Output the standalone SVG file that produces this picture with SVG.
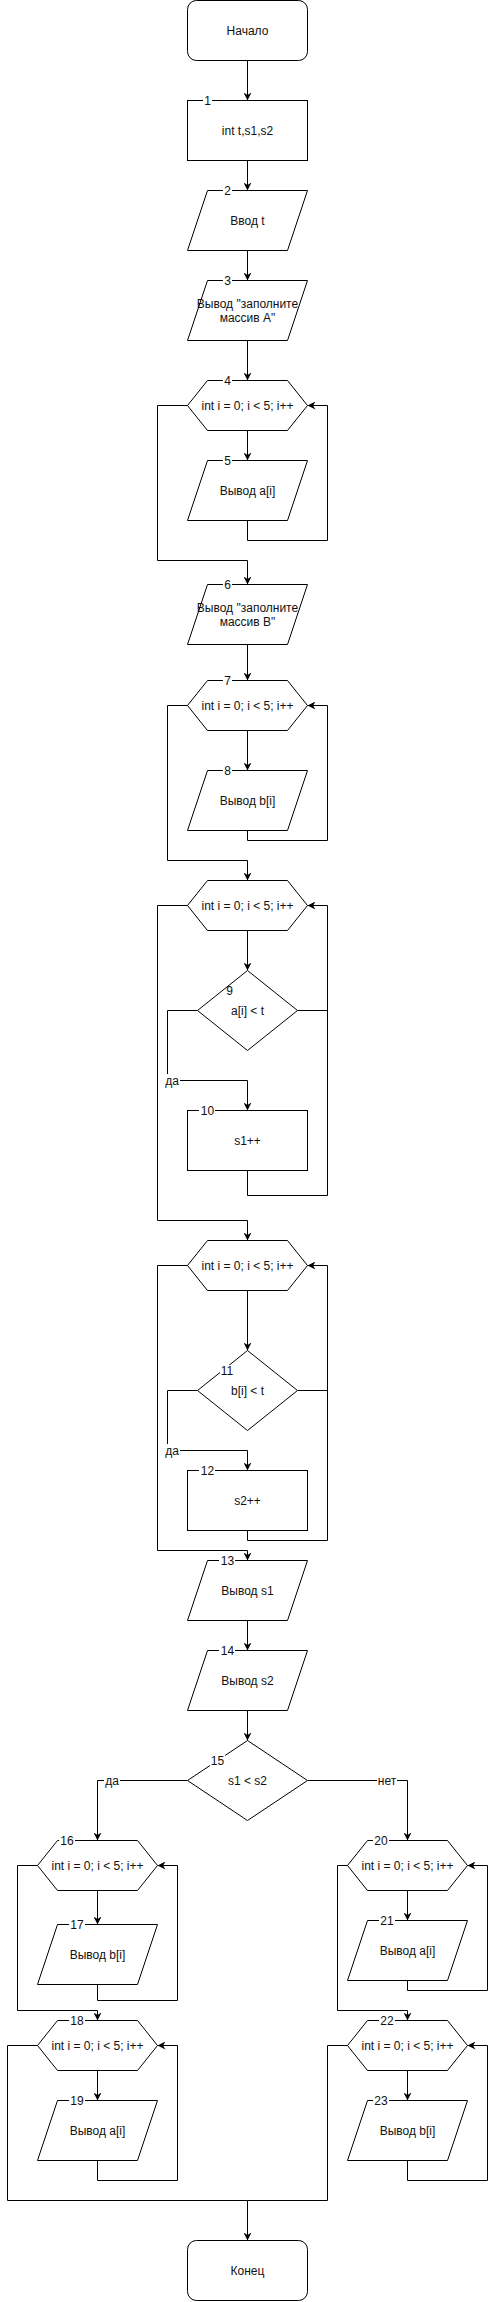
<svg xmlns="http://www.w3.org/2000/svg" width="496" height="2302" viewBox="0 0 496 2302">
<style>
.s{fill:#fff;stroke:#000;stroke-width:1}
.t{font-family:"Liberation Sans",Arial,sans-serif;font-size:12px;fill:#111;text-anchor:middle}
.c{fill:none;stroke:#000;stroke-width:1}
.a{marker-end:url(#arr)}
.bg{fill:#fff}
</style>
<defs>
<marker id="arr" viewBox="0 0 10 10" refX="10" refY="5" markerWidth="8" markerHeight="8" markerUnits="userSpaceOnUse" orient="auto"><path d="M0,0 L10,5 L0,10 L3,5 z" fill="#000"/></marker>
</defs>
<rect width="496" height="2302" fill="#fff"/>
<g id="connectors">
<path class="c a" d="M247.5,60.5 V100.5"/>
<path class="c a" d="M247.5,160.5 V190.5"/>
<path class="c a" d="M247.5,250.5 V280.5"/>
<path class="c a" d="M247.5,340.5 V380.5"/>
<path class="c a" d="M247.5,430.5 V460.5"/>
<path class="c a" d="M247.5,520.5 V540.5 H327.5 V405.5 H307.5"/>
<path class="c a" d="M187.5,405.5 H157.5 V560.5 H247.5 V584.5"/>
<path class="c a" d="M247.5,644.5 V680.5"/>
<path class="c a" d="M247.5,730.5 V770.5"/>
<path class="c a" d="M247.5,830.5 V840.5 H327.5 V705.5 H307.5"/>
<path class="c a" d="M187.5,705.5 H167.5 V860.5 H247.5 V880.5"/>
<path class="c a" d="M247.5,930.5 V970.5"/>
<path class="c a" d="M197.5,1010.5 H167.5 V1080.5 H247.5 V1110.5"/>
<path class="c" d="M297.5,1010.5 H327.5"/>
<path class="c a" d="M247.5,1170.5 V1195.5 H327.5 V905.5 H307.5"/>
<path class="c a" d="M187.5,905.5 H157.5 V1220.5 H247.5 V1240.5"/>
<path class="c a" d="M247.5,1290.5 V1350.5"/>
<path class="c a" d="M197.5,1390.5 H167.5 V1450.5 H247.5 V1470.5"/>
<path class="c" d="M297.5,1390.5 H327.5"/>
<path class="c a" d="M247.5,1530.5 V1540.5 H327.5 V1265.5 H307.5"/>
<path class="c a" d="M187.5,1265.5 H157.5 V1550.5 H247.5 V1560.5"/>
<path class="c a" d="M247.5,1620.5 V1650.5"/>
<path class="c a" d="M247.5,1710.5 V1740.5"/>
<path class="c a" d="M187.5,1780.5 H97.5 V1840.5"/>
<path class="c a" d="M307.5,1780.5 H407.5 V1840.5"/>
<path class="c a" d="M97.5,1890.5 V1924.5"/>
<path class="c a" d="M97.5,1984.5 V2000.5 H177.5 V1865.5 H157.5"/>
<path class="c a" d="M37.5,1865.5 H17.5 V2010.5 H97.5 V2020.5"/>
<path class="c a" d="M97.5,2070.5 V2100.5"/>
<path class="c a" d="M97.5,2160.5 V2180.5 H177.5 V2045.5 H157.5"/>
<path class="c a" d="M407.5,1890.5 V1920.5"/>
<path class="c a" d="M407.5,1980.5 V1990.5 H487.5 V1865.5 H467.5"/>
<path class="c a" d="M347.5,1865.5 H337.5 V2010.5 H407.5 V2020.5"/>
<path class="c a" d="M407.5,2070.5 V2100.5"/>
<path class="c a" d="M407.5,2160.5 V2180.5 H487.5 V2045.5 H467.5"/>
<path class="c a" d="M37.5,2045.5 H7.5 V2200.5 H247.5 V2240.5"/>
<path class="c" d="M347.5,2045.5 H327.5 V2200.5 H247.5"/>
<rect class="bg" x="164" y="1074" width="16" height="13"/>
<text class="t" x="172" y="1084.5">да</text>
<rect class="bg" x="164" y="1444" width="16" height="13"/>
<text class="t" x="172" y="1454.5">да</text>
<rect class="bg" x="104" y="1774" width="16" height="13"/>
<text class="t" x="112" y="1784.5">да</text>
<rect class="bg" x="377" y="1774" width="20" height="13"/>
<text class="t" x="387" y="1784.5">нет</text>
</g>
<g id="start">
<rect class="s" x="187.5" y="0.5" width="120" height="60" rx="9"/>
<text class="t" x="247.5" y="34.5">Начало</text>
</g>
<g id="n1">
<rect class="s" x="187.5" y="100.5" width="120" height="60"/>
<text class="t" x="247.5" y="134.5">int t,s1,s2</text>
<rect class="bg" x="203" y="94" width="9" height="13"/>
<text class="t" x="207.5" y="104.5">1</text>
</g>
<g id="n2">
<polygon class="s" points="207.5,190.5 307.5,190.5 287.5,250.5 187.5,250.5"/>
<text class="t" x="247.5" y="224.5">Ввод t</text>
<rect class="bg" x="223" y="184" width="9" height="13"/>
<text class="t" x="227.5" y="194.5">2</text>
</g>
<g id="n3">
<polygon class="s" points="207.5,280.5 307.5,280.5 287.5,340.5 187.5,340.5"/>
<text class="t" x="247.5" y="308">Вывод "заполните</text>
<text class="t" x="247.5" y="322">массив А"</text>
<rect class="bg" x="223" y="274" width="9" height="13"/>
<text class="t" x="227.5" y="284.5">3</text>
</g>
<g id="n4">
<polygon class="s" points="187.5,405.5 207.5,380.5 287.5,380.5 307.5,405.5 287.5,430.5 207.5,430.5"/>
<text class="t" x="247.5" y="409.5">int i = 0; i &lt; 5; i++</text>
<rect class="bg" x="223" y="374" width="9" height="13"/>
<text class="t" x="227.5" y="384.5">4</text>
</g>
<g id="n5">
<polygon class="s" points="207.5,460.5 307.5,460.5 287.5,520.5 187.5,520.5"/>
<text class="t" x="247.5" y="494.5">Вывод a[i]</text>
<rect class="bg" x="223" y="454" width="9" height="13"/>
<text class="t" x="227.5" y="464.5">5</text>
</g>
<g id="n6">
<polygon class="s" points="207.5,584.5 307.5,584.5 287.5,644.5 187.5,644.5"/>
<text class="t" x="247.5" y="612">Вывод "заполните</text>
<text class="t" x="247.5" y="626">массив В"</text>
<rect class="bg" x="223" y="578" width="9" height="13"/>
<text class="t" x="227.5" y="588.5">6</text>
</g>
<g id="n7">
<polygon class="s" points="187.5,705.5 207.5,680.5 287.5,680.5 307.5,705.5 287.5,730.5 207.5,730.5"/>
<text class="t" x="247.5" y="709.5">int i = 0; i &lt; 5; i++</text>
<rect class="bg" x="223" y="674" width="9" height="13"/>
<text class="t" x="227.5" y="684.5">7</text>
</g>
<g id="n8">
<polygon class="s" points="207.5,770.5 307.5,770.5 287.5,830.5 187.5,830.5"/>
<text class="t" x="247.5" y="804.5">Вывод b[i]</text>
<rect class="bg" x="223" y="764" width="9" height="13"/>
<text class="t" x="227.5" y="774.5">8</text>
</g>
<g id="loop3">
<polygon class="s" points="187.5,905.5 207.5,880.5 287.5,880.5 307.5,905.5 287.5,930.5 207.5,930.5"/>
<text class="t" x="247.5" y="909.5">int i = 0; i &lt; 5; i++</text>
</g>
<g id="n9">
<polygon class="s" points="247.5,970.5 297.5,1010.5 247.5,1050.5 197.5,1010.5"/>
<text class="t" x="247.5" y="1014.5">a[i] &lt; t</text>
<text class="t" x="229.5" y="994.5">9</text>
</g>
<g id="n10">
<rect class="s" x="187.5" y="1110.5" width="120" height="60"/>
<text class="t" x="247.5" y="1144.5">s1++</text>
<rect class="bg" x="199" y="1104" width="16" height="13"/>
<text class="t" x="207.5" y="1114.5">10</text>
</g>
<g id="loop4">
<polygon class="s" points="187.5,1265.5 207.5,1240.5 287.5,1240.5 307.5,1265.5 287.5,1290.5 207.5,1290.5"/>
<text class="t" x="247.5" y="1269.5">int i = 0; i &lt; 5; i++</text>
</g>
<g id="n11">
<polygon class="s" points="247.5,1350.5 297.5,1390.5 247.5,1430.5 197.5,1390.5"/>
<text class="t" x="247.5" y="1394.5">b[i] &lt; t</text>
<rect class="bg" x="220" y="1365" width="14" height="11"/>
<text class="t" x="227" y="1374.5">11</text>
</g>
<g id="n12">
<rect class="s" x="187.5" y="1470.5" width="120" height="60"/>
<text class="t" x="247.5" y="1504.5">s2++</text>
<rect class="bg" x="199" y="1464" width="16" height="13"/>
<text class="t" x="207.5" y="1474.5">12</text>
</g>
<g id="n13">
<polygon class="s" points="207.5,1560.5 307.5,1560.5 287.5,1620.5 187.5,1620.5"/>
<text class="t" x="247.5" y="1594.5">Вывод s1</text>
<rect class="bg" x="219" y="1554" width="16" height="13"/>
<text class="t" x="227.5" y="1564.5">13</text>
</g>
<g id="n14">
<polygon class="s" points="207.5,1650.5 307.5,1650.5 287.5,1710.5 187.5,1710.5"/>
<text class="t" x="247.5" y="1684.5">Вывод s2</text>
<rect class="bg" x="219" y="1644" width="16" height="13"/>
<text class="t" x="227.5" y="1654.5">14</text>
</g>
<g id="n15">
<polygon class="s" points="247.5,1740.5 307.5,1780.5 247.5,1820.5 187.5,1780.5"/>
<text class="t" x="247.5" y="1784.5">s1 &lt; s2</text>
<rect class="bg" x="210" y="1755" width="15" height="12"/>
<text class="t" x="217.5" y="1764.5">15</text>
</g>
<g id="n16">
<polygon class="s" points="37.5,1865.5 57.5,1840.5 137.5,1840.5 157.5,1865.5 137.5,1890.5 57.5,1890.5"/>
<text class="t" x="97.5" y="1869.5">int i = 0; i &lt; 5; i++</text>
<rect class="bg" x="59" y="1834" width="16" height="13"/>
<text class="t" x="67" y="1844.5">16</text>
</g>
<g id="n17">
<polygon class="s" points="57.5,1924.5 157.5,1924.5 137.5,1984.5 37.5,1984.5"/>
<text class="t" x="97.5" y="1958.5">Вывод b[i]</text>
<rect class="bg" x="69" y="1918" width="16" height="13"/>
<text class="t" x="77" y="1928.5">17</text>
</g>
<g id="n18">
<polygon class="s" points="37.5,2045.5 57.5,2020.5 137.5,2020.5 157.5,2045.5 137.5,2070.5 57.5,2070.5"/>
<text class="t" x="97.5" y="2049.5">int i = 0; i &lt; 5; i++</text>
<rect class="bg" x="69" y="2014" width="16" height="13"/>
<text class="t" x="77" y="2024.5">18</text>
</g>
<g id="n19">
<polygon class="s" points="57.5,2100.5 157.5,2100.5 137.5,2160.5 37.5,2160.5"/>
<text class="t" x="97.5" y="2134.5">Вывод a[i]</text>
<rect class="bg" x="69" y="2094" width="16" height="13"/>
<text class="t" x="77" y="2104.5">19</text>
</g>
<g id="n20">
<polygon class="s" points="347.5,1865.5 367.5,1840.5 447.5,1840.5 467.5,1865.5 447.5,1890.5 367.5,1890.5"/>
<text class="t" x="407.5" y="1869.5">int i = 0; i &lt; 5; i++</text>
<rect class="bg" x="373" y="1834" width="16" height="13"/>
<text class="t" x="381" y="1844.5">20</text>
</g>
<g id="n21">
<polygon class="s" points="367.5,1920.5 467.5,1920.5 447.5,1980.5 347.5,1980.5"/>
<text class="t" x="407.5" y="1954.5">Вывод a[i]</text>
<rect class="bg" x="379" y="1914" width="16" height="13"/>
<text class="t" x="387" y="1924.5">21</text>
</g>
<g id="n22">
<polygon class="s" points="347.5,2045.5 367.5,2020.5 447.5,2020.5 467.5,2045.5 447.5,2070.5 367.5,2070.5"/>
<text class="t" x="407.5" y="2049.5">int i = 0; i &lt; 5; i++</text>
<rect class="bg" x="379" y="2014" width="16" height="13"/>
<text class="t" x="387" y="2024.5">22</text>
</g>
<g id="n23">
<polygon class="s" points="367.5,2100.5 467.5,2100.5 447.5,2160.5 347.5,2160.5"/>
<text class="t" x="407.5" y="2134.5">Вывод b[i]</text>
<rect class="bg" x="373" y="2094" width="16" height="13"/>
<text class="t" x="381" y="2104.5">23</text>
</g>
<g id="end">
<rect class="s" x="187.5" y="2240.5" width="120" height="60" rx="9"/>
<text class="t" x="247.5" y="2274.5">Конец</text>
</g>
</svg>
